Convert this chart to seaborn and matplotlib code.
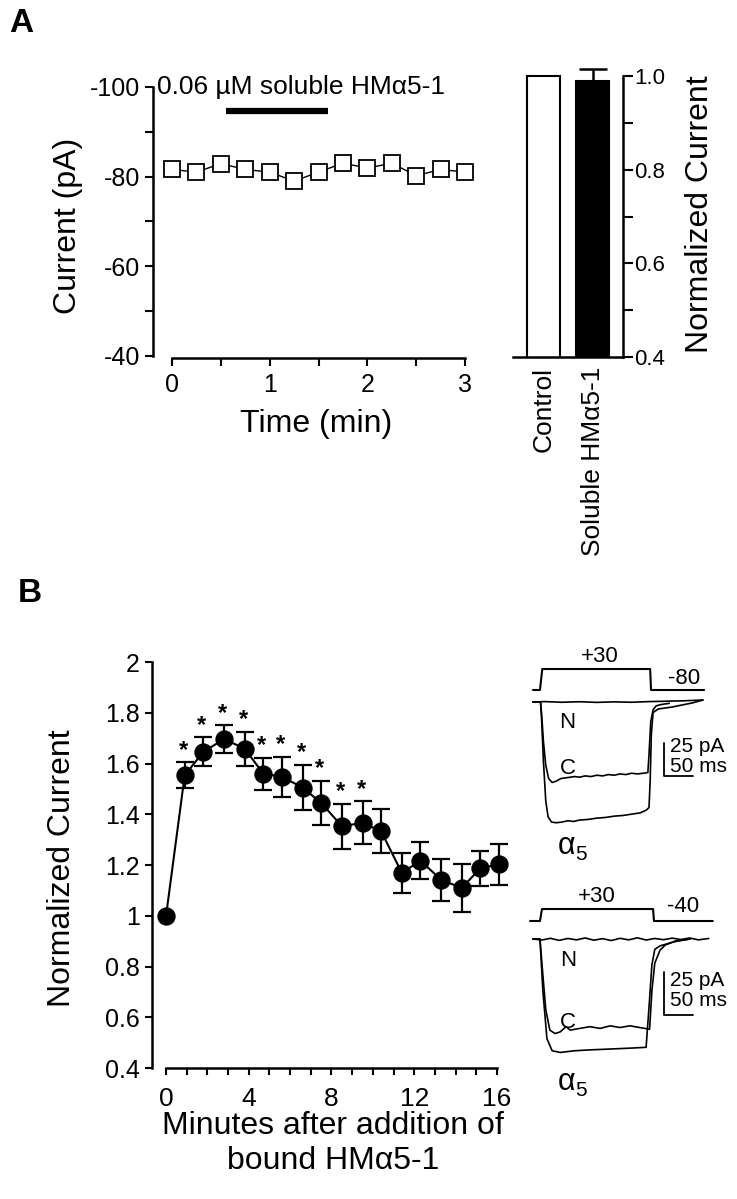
import matplotlib
matplotlib.use("Agg")
import numpy as np
import pandas as pd
import matplotlib.pyplot as plt
import matplotlib.ticker as mticker
import seaborn as sns

sns.set_style("ticks")
plt.rcParams['font.family'] = ['Liberation Sans', 'DejaVu Sans']
plt.rcParams['axes.linewidth'] = 1.8
plt.rcParams['xtick.major.width'] = 1.5
plt.rcParams['ytick.major.width'] = 1.5
plt.rcParams['xtick.minor.width'] = 1.5
plt.rcParams['ytick.minor.width'] = 1.5
plt.rcParams['xtick.color'] = 'black'
plt.rcParams['ytick.color'] = 'black'
plt.rcParams['axes.edgecolor'] = 'black'

# ---------------- data ----------------
# panel A, time course with soluble HMa5-1
time_a = [0, 0.25, 0.5, 0.75, 1.0, 1.25, 1.5, 1.75, 2.0, 2.25, 2.5, 2.75, 3.0]
current_a = [-81.6, -81.0, -82.9, -81.6, -81.0, -79.0, -81.0, -83.0, -81.9, -83.0, -80.2, -81.6, -81.0]
drug_on, drug_off, drug_level = 0.55, 1.6, -94.7

# panel A, bars
bar_labels = ['Control', 'Soluble HMα5-1']
bar_values = [1.0, 0.99]
bar_err = [0.0, 0.025]

# panel B, bound HMa5-1
time_b = [0, 0.9, 1.8, 2.8, 3.8, 4.7, 5.6, 6.6, 7.5, 8.5, 9.5, 10.4, 11.4, 12.3, 13.3, 14.3, 15.2, 16.1]
norm_b = [1.0, 1.553, 1.646, 1.696, 1.659, 1.560, 1.548, 1.505, 1.445, 1.353, 1.366, 1.333,
          1.169, 1.217, 1.142, 1.109, 1.188, 1.202]
sem_b = [0.0, 0.051, 0.057, 0.055, 0.067, 0.063, 0.079, 0.090, 0.088, 0.088, 0.085, 0.087,
         0.079, 0.072, 0.083, 0.094, 0.069, 0.079]
signif_b = [False, True, True, True, True, True, True, True, True, True, True,
            False, False, False, False, False, False, False]

# inset traces (ms, pA) and protocols (ms, mV)
top_prot_t = [0, 12, 16, 202, 203.5, 295]
top_prot_v = [-80, -80, 30, 30, -80, -80]
top_n_t = [0, 20, 50, 80, 110, 140, 170, 200, 230, 260, 293]
top_n_i = [0, 0.3, -0.2, 0.2, -0.3, 0.1, -0.2, 0.3, 0.6, 0.9, 1.5]
top_c_t = [0, 13, 15, 18, 22, 27, 33, 40, 48, 56, 64, 72, 80, 90, 100, 110, 120, 130, 140, 150,
           160, 170, 180, 190, 198, 200, 203, 207, 212, 220, 235]
top_c_i = [0, 0, -10, -30, -48, -58, -61, -60, -58, -57.5, -57, -56.5, -57, -56, -56.5, -55.5,
           -56, -55, -55.5, -54.5, -55, -54, -54.5, -54, -53.5, -40, -15, -6, -3, -2, -1]
top_a_t = [0, 13, 15, 18, 22, 26, 32, 40, 50, 60, 70, 80, 95, 110, 125, 140, 155, 170, 185, 195,
           200, 202, 204, 207, 216, 240, 260, 274, 293]
top_a_i = [0, 0, -15, -45, -75, -87, -91, -91.5, -91, -90, -90.5, -89.5, -89, -88, -87.5, -86.5,
           -86, -85, -84, -82, -80, -60, -25, -8, -5.3, -3.8, -2, -0.8, 1.5]

bot_prot_t = [-5, 12, 15.5, 207, 208.6, 310]
bot_prot_v = [-40, -40, 30, 30, -40, -40]
bot_n_t = [0, 15, 30, 45, 60, 75, 90, 105, 120, 135, 150, 165, 180, 195, 210, 225, 240, 255, 270, 285, 303]
bot_n_i = [0, -0.6, 0.4, -0.8, 0.3, -0.5, 0.6, -0.7, 0.2, -0.9, 0.4, -0.5, 0.7, -0.6, 0.3, -0.4,
           0.5, -0.3, 0.6, -0.5, 0.3]
bot_c_t = [0, 12, 17, 22, 29, 38, 47, 57, 64, 81, 98, 116, 133, 150, 167, 184, 201, 205, 210,
           219, 228, 245, 271]
bot_c_i = [0, 0, -21, -41, -53, -55, -54, -51, -53, -52, -51, -52, -50.5, -51.5, -50.5, -51.5,
           -52.5, -30, -14, -6.5, -3.5, -1.2, 0]
bot_a_t = [0, 12, 17, 24, 33, 47, 72, 98, 133, 167, 195, 201, 205, 210, 219, 245, 271]
bot_a_i = [0, 0, -30, -58, -65, -66, -65, -64.5, -64, -63.5, -63, -35, -15, -6, -4, -1.5, 0]

# ---------------- layout helpers ----------------
W, H = 737, 1199
fig = plt.figure(figsize=(W / 100, H / 100), dpi=100)
fig.patch.set_facecolor('white')


def box(x0, y0, x1, y1):
    return fig.add_axes([x0 / W, 1 - y1 / H, (x1 - x0) / W, (y1 - y0) / H])


def ftext(x, y, s, **kw):
    kw.setdefault('ha', 'center')
    kw.setdefault('va', 'center')
    kw.setdefault('color', 'black')
    fig.text(x / W, 1 - y / H, s, **kw)


# ---------------- panel A, time course ----------------
axA = box(153, 82, 470, 358)
df_a = pd.DataFrame({'time': time_a, 'current': current_a})
sns.lineplot(data=df_a, x='time', y='current', ax=axA, color='black', lw=1.0,
             marker='s', markersize=11.5, markerfacecolor='white',
             markeredgecolor='black', markeredgewidth=1.3, clip_on=False)
axA.plot([drug_on, drug_off], [drug_level, drug_level], color='black', lw=4.5,
         solid_capstyle='butt')
axA.set_xlim(-0.194, 3.05)
axA.set_ylim(-39.55, -101.1)
for s in ['top', 'right']:
    axA.spines[s].set_visible(False)
axA.spines['left'].set_bounds(-100, -40)
axA.spines['bottom'].set_bounds(0, 3)
axA.yaxis.set_major_locator(mticker.FixedLocator([-100, -80, -60, -40]))
axA.yaxis.set_minor_locator(mticker.FixedLocator([-90, -70, -50]))
axA.xaxis.set_major_locator(mticker.FixedLocator([0, 1, 2, 3]))
axA.xaxis.set_minor_locator(mticker.FixedLocator([0.5, 1.5, 2.5]))
axA.xaxis.set_major_formatter(mticker.FuncFormatter(lambda v, p: f'{v:g}'))
axA.yaxis.set_major_formatter(mticker.FuncFormatter(lambda v, p: f'{v:g}'))
axA.tick_params(axis='both', which='both', direction='out', length=5.5)
axA.tick_params(axis='y', which='major', labelsize=18, pad=4)
axA.tick_params(axis='x', which='major', labelsize=18, pad=5)
axA.set_xlabel('')
axA.set_ylabel('')
ftext(157, 87, '0.06 µM soluble HMα5-1', fontsize=19, ha='left')
ftext(68, 226, 'Current (pA)', fontsize=23, rotation=90)
ftext(316, 424, 'Time (min)', fontsize=23)

# ---------------- panel A, bars ----------------
axBar = box(513, 60, 623, 357)
df_bar = pd.DataFrame({'cond': bar_labels, 'norm': bar_values})
sns.barplot(data=df_bar, x='cond', y='norm', hue='cond', palette=['white', 'black'],
            edgecolor='black', linewidth=1.5, width=0.67, errorbar=None,
            legend=False, ax=axBar)
axBar.errorbar([1], [bar_values[1]], yerr=[[0], [bar_err[1]]], fmt='none', ecolor='black',
               elinewidth=1.8, capsize=10.4, capthick=1.8)
axBar.set_ylim(0.4, 1.0346)
axBar.set_xlim(-0.622, 1.622)
axBar.spines['left'].set_visible(False)
axBar.spines['top'].set_visible(False)
axBar.spines['right'].set_visible(True)
axBar.spines['right'].set_bounds(0.4, 1.0)
axBar.yaxis.tick_right()
axBar.yaxis.set_major_locator(mticker.FixedLocator([0.4, 0.6, 0.8, 1.0]))
axBar.yaxis.set_minor_locator(mticker.FixedLocator([0.5, 0.7, 0.9]))
axBar.yaxis.set_major_formatter(mticker.FormatStrFormatter('%.1f'))
axBar.tick_params(axis='y', which='both', direction='out', length=7, labelsize=16, pad=1)
axBar.set_xticks([0, 1])
axBar.set_xticklabels(bar_labels, rotation=90, fontsize=19, va='top')
axBar.tick_params(axis='x', length=0, pad=7)
axBar.set_xlabel('')
axBar.set_ylabel('')
ftext(700, 214, 'Normalized Current', fontsize=23, rotation=90)

# ---------------- panel B ----------------
axB = box(152, 655, 505, 1068)
df_b = pd.DataFrame({'time': time_b, 'norm': norm_b, 'sem': sem_b, 'sig': signif_b})
err_b = df_b[df_b['sem'] > 0]
axB.errorbar(err_b['time'], err_b['norm'], yerr=err_b['sem'], fmt='none', ecolor='black',
             elinewidth=1.6, capsize=6.6, capthick=1.6, zorder=1, clip_on=False)
sns.lineplot(data=df_b, x='time', y='norm', ax=axB, color='black', lw=1.5, marker='o',
             markersize=12.2, markeredgecolor='black', markeredgewidth=1, clip_on=False,
             zorder=3)
for _, row in df_b[df_b['sig']].iterrows():
    axB.annotate('*', xy=(row['time'], row['norm'] + row['sem']), xytext=(-1, 4),
                 textcoords='offset points', ha='center', va='baseline', fontsize=17,
                 fontweight='bold', color='black')
axB.set_xlim(-0.68, 16.39)
axB.set_ylim(0.4, 2.0276)
for s in ['top', 'right']:
    axB.spines[s].set_visible(False)
axB.spines['left'].set_bounds(0.4, 2.0)
axB.spines['bottom'].set_bounds(0, 16)
axB.yaxis.set_major_locator(mticker.FixedLocator([0.4, 0.6, 0.8, 1.0, 1.2, 1.4, 1.6, 1.8, 2.0]))
axB.yaxis.set_major_formatter(mticker.FuncFormatter(lambda v, p: f'{round(v, 1):g}'))
axB.xaxis.set_major_locator(mticker.FixedLocator([0, 4, 8, 12, 16]))
axB.xaxis.set_minor_locator(mticker.FixedLocator([1, 2, 3, 5, 6, 7, 9, 10, 11, 13, 14, 15]))
axB.tick_params(axis='both', which='both', direction='out', length=5)
axB.tick_params(axis='y', which='major', labelsize=18, pad=4)
axB.tick_params(axis='x', which='major', labelsize=19, pad=9)
axB.set_xlabel('')
axB.set_ylabel('')
ftext(62, 868, 'Normalized Current', fontsize=23, rotation=90)
ftext(333, 1126, 'Minutes after addition of', fontsize=23)
ftext(333, 1161, 'bound HMα5-1', fontsize=23)

# ---------------- insets ----------------
def inset(prot_box, prot_ylim, cur_box, cur_ylim, prot_t, prot_v, traces, bar_top):
    xl = (-13.8, 313.8)
    axp = box(*prot_box)
    axp.plot(prot_t, prot_v, color='black', lw=1.5)
    axp.set_xlim(*xl)
    axp.set_ylim(*prot_ylim)
    axp.axis('off')
    axc = box(*cur_box)
    for tt, ii in traces:
        axc.plot(tt, ii, color='black', lw=1.2)
    axc.plot([226, 226, 276], [bar_top, bar_top - 25, bar_top - 25], color='black', lw=1.3)
    axc.set_xlim(*xl)
    axc.set_ylim(*cur_ylim)
    axc.axis('off')


inset((525, 660, 715, 695), (-106.2, 77.1), (525, 695, 715, 830), (-97.0, 5.3),
      top_prot_t, top_prot_v,
      [(top_n_t, top_n_i), (top_c_t, top_c_i), (top_a_t, top_a_i)], -31)
inset((525, 900, 715, 930), (-92.5, 82.5), (525, 932, 715, 1070), (-76.2, 4.07),
      bot_prot_t, bot_prot_v,
      [(bot_n_t, bot_n_i), (bot_c_t, bot_c_i), (bot_a_t, bot_a_i)], -19.2)

for (xp, yp, xv, yv, xn, yn, yc, ya, ys) in [(600, 657, 684, 678, 567, 722, 768, 846, 746),
                                              (597, 897, 683, 907, 568, 960, 1023, 1082, 980)]:
    ftext(xp, yp, '+30', fontsize=16)
    ftext(xv, yv, '-80' if yp < 800 else '-40', fontsize=16)
    ftext(xn, yn, 'N', fontsize=16)
    ftext(568, yc, 'C', fontsize=16)
    ftext(567, ya, 'α', fontsize=22)
    ftext(581, ya + 9, '5', fontsize=15)
    ftext(670, ys, '25 pA', fontsize=15, ha='left')
    ftext(670, ys + 20, '50 ms', fontsize=15, ha='left')

ftext(21, 24, 'A', fontsize=24, fontweight='bold')
ftext(30, 594, 'B', fontsize=24, fontweight='bold')

fig.savefig('out.png', dpi=100, facecolor='white')
